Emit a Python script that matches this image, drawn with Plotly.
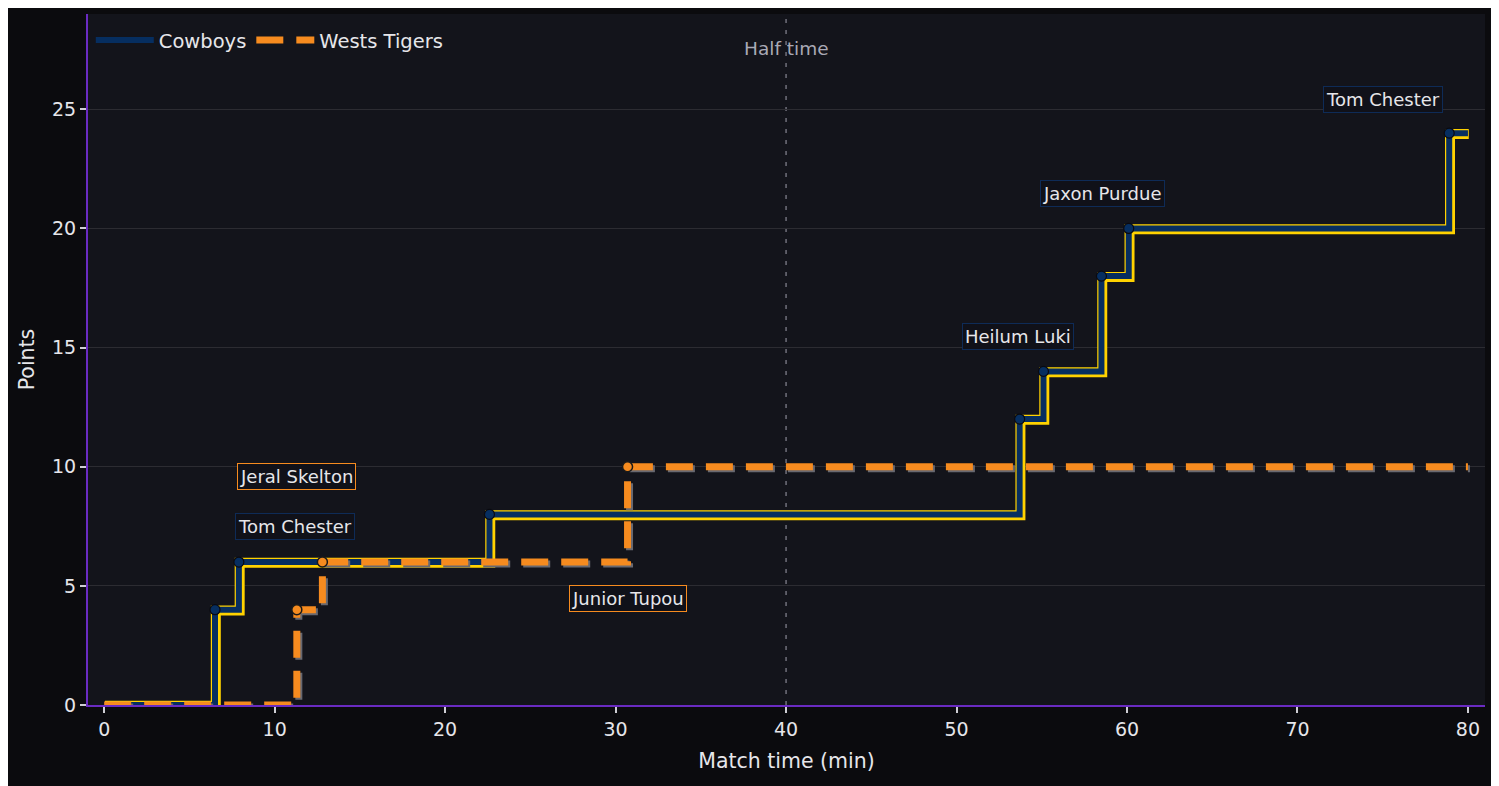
import plotly.graph_objects as go

# Match data (minutes, running score)
cowboys_time = [0, 6.5, 7.9, 22.6, 53.7, 55.1, 58.5, 60.1, 78.9, 80]
cowboys_score = [0, 4, 6, 8, 12, 14, 18, 20, 24, 24]
tigers_time = [0, 11.3, 12.8, 30.7, 80]
tigers_score = [0, 4, 6, 10, 10]

# Try scorers and where their labels sit
cowboys_scorers = ["Tom Chester", "Heilum Luki", "Jaxon Purdue", "Tom Chester"]
cowboys_label_x = [11.2, 53.6, 58.55, 75.0]
cowboys_label_y = [7.5, 15.45, 21.45, 25.4]
tigers_scorers = ["Jeral Skelton", "Junior Tupou"]
tigers_label_x = [11.3, 30.7]
tigers_label_y = [9.6, 4.45]

x_ticks = [0, 10, 20, 30, 40, 50, 60, 70, 80]
y_ticks = [0, 5, 10, 15, 20, 25]
half_time = 40

NAVY = "#062E60"
GOLD = "#FFD200"
ORANGE = "#F68B1F"
SHADOW = "#686870"
PAPER = "#0B0B0E"
PLOT_BG = "#13141B"
PURPLE = "#6A2BC2"
TEXT = "#E6E6EA"
FONT = "DejaVu Sans"

X_RANGE = [-0.95, 81.0]
Y_RANGE = [0, 29]
# the page has an 8px body margin, so the margins are trimmed by that much
MARGIN = dict(l=80, r=22, t=6, b=89)
PLOT_W = 1499 - MARGIN["l"] - MARGIN["r"]
PLOT_H = 786 - MARGIN["t"] - MARGIN["b"]
px_x = PLOT_W / (X_RANGE[1] - X_RANGE[0])
px_y = PLOT_H / (Y_RANGE[1] - Y_RANGE[0])


def offset_axes(dx, dy):
    # same scale as the main axes, nudged a few pixels right / down (shadow layers)
    xa = dict(overlaying="x", visible=False, showgrid=False,
              range=[X_RANGE[0] - dx / px_x, X_RANGE[1] - dx / px_x])
    ya = dict(overlaying="y", visible=False, showgrid=False,
              range=[Y_RANGE[0] + dy / px_y, Y_RANGE[1] + dy / px_y])
    return xa, ya


fig = go.Figure()

# gold outline of the Cowboys line
fig.add_trace(go.Scatter(x=cowboys_time, y=cowboys_score, mode="lines",
                         line=dict(color=GOLD, width=10, shape="hv"),
                         xaxis="x2", yaxis="y2", showlegend=False, hoverinfo="skip"))
# Cowboys line + markers
fig.add_trace(go.Scatter(x=cowboys_time, y=cowboys_score, mode="lines", name="Cowboys",
                         line=dict(color=NAVY, width=6, shape="hv"),
                         xaxis="x3", yaxis="y3"))
fig.add_trace(go.Scatter(x=cowboys_time[1:-1], y=cowboys_score[1:-1], mode="markers",
                         marker=dict(color=NAVY, size=10, line=dict(color="#0A0A10", width=1.2)),
                         xaxis="x3", yaxis="y3", showlegend=False))
# grey shadow of the Tigers line
fig.add_trace(go.Scatter(x=tigers_time, y=tigers_score, mode="lines",
                         line=dict(color=SHADOW, width=7, shape="hv", dash="27px,13px"),
                         xaxis="x4", yaxis="y4", showlegend=False, hoverinfo="skip"))
# Tigers line + markers
fig.add_trace(go.Scatter(x=tigers_time, y=tigers_score, mode="lines", name="Wests Tigers",
                         line=dict(color=ORANGE, width=7, shape="hv", dash="27px,13px"),
                         xaxis="x5", yaxis="y5"))
fig.add_trace(go.Scatter(x=tigers_time[1:-1], y=tigers_score[1:-1], mode="markers",
                         marker=dict(color=ORANGE, size=10, line=dict(color="#1A1A1A", width=1.5)),
                         xaxis="x5", yaxis="y5", showlegend=False))

# half time marker
fig.add_shape(type="line", x0=half_time, x1=half_time, y0=0, y1=1,
              xref="x", yref="y domain", layer="below",
              line=dict(color="#70707C", width=1.5, dash="4px,7px"))
fig.add_annotation(x=half_time, y=27.55, text="Half time", showarrow=False,
                   font=dict(family=FONT, size=18.5, color="#A9A9B5"))

for name, lx, ly in zip(cowboys_scorers, cowboys_label_x, cowboys_label_y):
    fig.add_annotation(x=lx, y=ly, text=name, showarrow=False,
                       font=dict(family=FONT, size=18, color=TEXT),
                       bgcolor="#101119", bordercolor="#0E2B57", borderwidth=1, borderpad=2)
for name, lx, ly in zip(tigers_scorers, tigers_label_x, tigers_label_y):
    fig.add_annotation(x=lx, y=ly, text=name, showarrow=False,
                       font=dict(family=FONT, size=18, color=TEXT),
                       bgcolor="#101119", bordercolor=ORANGE, borderwidth=1, borderpad=2)

tick_font = dict(family=FONT, size=19, color=TEXT)
title_font = dict(family=FONT, size=20.5, color=TEXT)
x2, y2 = offset_axes(0.8, 0.8)
x3, y3 = offset_axes(0, 0)
x4, y4 = offset_axes(2, 2)
x5, y5 = offset_axes(0, 0)

fig.update_layout(
    width=1499, height=786,
    paper_bgcolor=PAPER, plot_bgcolor=PLOT_BG,
    margin=MARGIN,
    font=dict(family=FONT, size=18, color=TEXT),
    xaxis=dict(range=X_RANGE, tickvals=x_ticks, showgrid=False, zeroline=False,
               showline=True, linecolor=PURPLE, linewidth=2,
               ticks="outside", ticklen=6, tickwidth=1.5, tickcolor="#CFCFD4",
               tickfont=tick_font, title=dict(text="Match time (min)", font=title_font, standoff=15)),
    yaxis=dict(range=Y_RANGE, tickvals=y_ticks, showgrid=True, gridcolor="#2C2C32", gridwidth=1,
               zeroline=False, showline=True, linecolor=PURPLE, linewidth=2,
               ticks="outside", ticklen=6, tickwidth=1.5, tickcolor="#CFCFD4",
               tickfont=tick_font, title=dict(text="Points", font=title_font, standoff=12)),
    xaxis2=x2, yaxis2=y2, xaxis3=x3, yaxis3=y3,
    xaxis4=x4, yaxis4=y4, xaxis5=x5, yaxis5=y5,
    legend=dict(orientation="h", x=0.002, y=0.99, xanchor="left", yanchor="top",
                itemwidth=58, bgcolor="rgba(0,0,0,0)",
                font=dict(family=FONT, size=19.5, color=TEXT)),
    hovermode=False,
)

fig.write_html("out.html")
